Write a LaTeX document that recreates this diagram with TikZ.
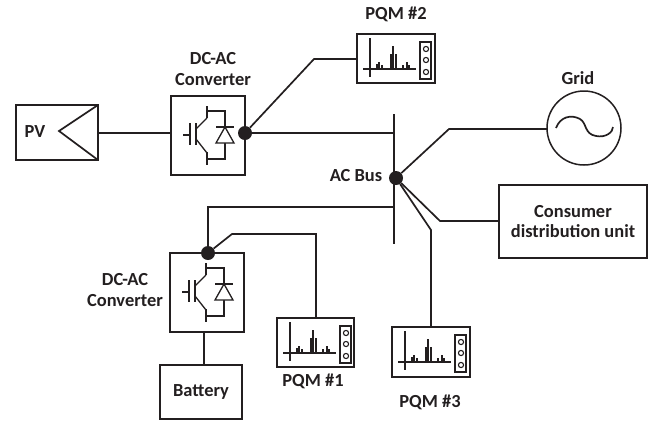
\documentclass[tikz,border=0pt]{standalone}
\usepackage{fontspec}
\setmainfont{Carlito}
\definecolor{ink}{HTML}{231F20}
\tikzset{
  wire/.style={draw=ink,line width=1.7bp,line join=miter},
  thin wire/.style={draw=ink,line width=1.3bp},
  boxn/.style={draw=ink,line width=1.5bp,rectangle,anchor=north west,inner sep=0pt,outer sep=0pt,align=center,font=\fontsize{18.5}{21}\selectfont\bfseries,text=ink},
  label/.style={inner sep=0pt,align=center,font=\fontsize{18.5}{22}\selectfont\bfseries,text=ink},
  junction/.style={circle,fill=ink,draw=none,minimum size=14bp,inner sep=0pt},
  pics/igbt/.style={code={
    \draw[thin wire] (12,39)--(19,39) (19,27)--(19,49) (25,27)--(25,49);
    \draw[thin wire] (25,33)--(36,22) (25,43)--(36,57);
    \draw[thin wire] (36,10)--(36,22) (36,56)--(36,69);
    \draw[thin wire] (36,15)--(54,15)--(54,63)--(36,63);
    \draw[thin wire,fill=white] (54,31)--(45,47)--(63,47)--cycle;
    \draw[thin wire] (45,31)--(63,31);
  }},
  pics/meter/.style={code={
    \draw[thin wire] (13,4)--(13,43) (6,35)--(59,35);
    \foreach \sx/\sh in {20/5,22/7,25/4,34/15,36/23,39/15,46/4,50/7,52/4}
      \draw[thin wire] (\sx,35)--(\sx,35-\sh);
    \draw[thin wire] (63,8) rectangle (74,45);
    \foreach \sy in {15,26,38}
      \draw[draw=ink,line width=1.1bp] (69,\sy) circle (2.6);
  }}
}
\begin{document}
\begin{tikzpicture}[x=1bp,y=-1bp]
\useasboundingbox (0,0) rectangle (654,420);
% boxes
\node[boxn,minimum width=82bp,minimum height=55bp] (pv) at (16,105) {};
\node[boxn,minimum width=74bp,minimum height=79bp] (conv1) at (171,96) {};
\node[boxn,minimum width=74bp,minimum height=79bp] (conv2) at (170,253) {};
\node[boxn,minimum width=82bp,minimum height=54bp] (batt) at (160,365) {Battery};
\node[boxn,minimum width=148bp,minimum height=73bp] (cons) at (499,185) {Consumer\\distribution unit};
\node[boxn,minimum width=78bp,minimum height=49bp] (pqm2) at (357,34) {};
\node[boxn,minimum width=77bp,minimum height=49bp] (pqm1) at (277,318) {};
\node[boxn,minimum width=78bp,minimum height=50bp] (pqm3) at (392,327) {};
\node[circle,draw=ink,line width=1.5bp,minimum size=74bp,inner sep=0pt,outer sep=0pt] (grid) at (584,128) {};
% junctions
\node[junction] (dotA) at (245,133) {};
\node[junction] (dotB) at (208,253) {};
\node[junction] (dotC) at (396,178) {};
% routing points
\coordinate (busTop) at (394,114);
\coordinate (busBot) at (394,244);
\coordinate (pvTip) at (59,131);
\coordinate (k2) at (314,59);
\coordinate (k1a) at (208,207);
\coordinate (k1b) at (232,234);
\coordinate (k1c) at (316,234);
\coordinate (kg) at (449,129);
\coordinate (kc) at (440,221);
\coordinate (k3) at (431,230);
% content
\draw[wire] (pv.north east)--(pvTip)--(pv.south east);
\pic at (conv1.north west) {igbt};
\pic at (conv2.north west) {igbt};
\pic at (pqm2.north west) {meter};
\pic at (pqm1.north west) {meter};
\pic at (pqm3.north west) {meter};
\draw[wire] (556,128) .. controls (560,117) and (571,114) .. (580,119)
  .. controls (587,123) and (584,134) .. (596,136)
  .. controls (606,138) and (613,132) .. (613,127);
% connectors
\draw[wire] (busTop)--(busBot);
\draw[wire] (pv.east |- dotA)--(conv1.west |- dotA);
\draw[wire] (dotA)--(busTop |- dotA);
\draw[wire] (dotA)--(k2)--(pqm2.west |- k2);
\draw[wire] (dotC)--(kg)--(grid.west |- kg);
\draw[wire] (dotC)--(kc)--(cons.west |- kc);
\draw[wire] (dotC)--(k3)--(k3 |- pqm3.north);
\draw[wire] (busTop |- k1a)--(k1a)--(dotB);
\draw[wire] (dotB)--(k1b)--(k1c)--(k1c |- pqm1.north);
\draw[wire] (batt.north -| 204,0)--(conv2.south -| 204,0);
% labels
\node[label] (lpv) at (35,132) {PV};
\node[label] (lc1) at (213,69) {DC-AC\\Converter};
\node[label] (lc2) at (125,290) {DC-AC\\Converter};
\node[label] (lq2) at (396,14) {PQM \#2};
\node[label] (lq1) at (313,381) {PQM \#1};
\node[label] (lq3) at (430,402) {PQM \#3};
\node[label] (lg) at (578,78) {Grid};
\node[label] (lbus) at (356,176) {AC Bus};
\end{tikzpicture}
\end{document}
